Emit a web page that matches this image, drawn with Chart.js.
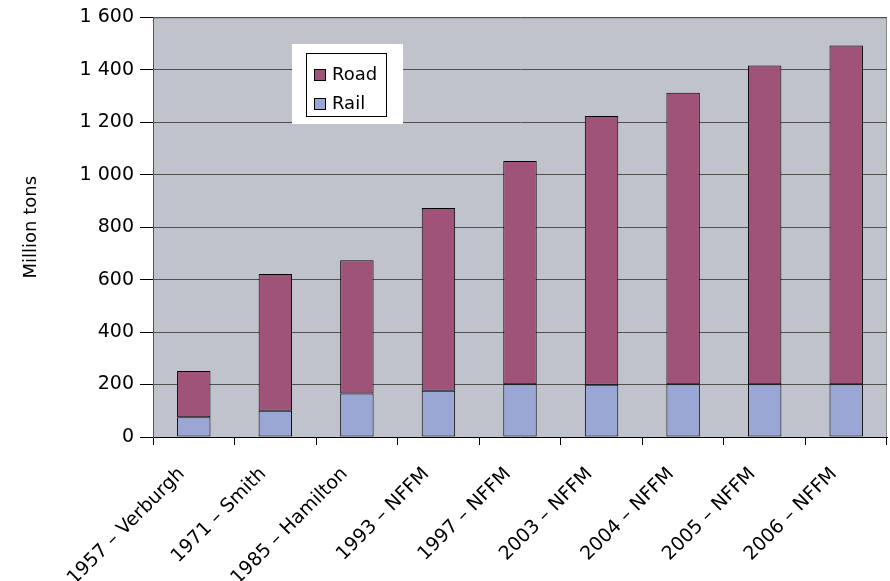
<!DOCTYPE html>
<html>
<head>
<meta charset="utf-8">
<script src="https://cdn.jsdelivr.net/npm/chart.js@4.4.1/dist/chart.umd.min.js"></script>
<style>
  body { margin: 0; background: #fff; }
  #wrap { width: 890px; height: 581px; }
</style>
</head>
<body>
<div id="wrap"><canvas id="freight-chart" width="890" height="581"></canvas></div>
<script>
// Data
const categories = ['1957 – Verburgh', '1971 – Smith', '1985 – Hamilton', '1993 – NFFM', '1997 – NFFM',
                    '2003 – NFFM', '2004 – NFFM', '2005 – NFFM', '2006 – NFFM'];
const railValues = [75, 100, 166, 176, 201, 199, 201, 201, 201];
const roadValues = [177, 522, 508, 697, 851, 1025, 1112, 1216, 1292];
const yTicks = [0, 200, 400, 600, 800, 1000, 1200, 1400, 1600];

const FONT = 'DejaVu Sans';

// grey plot background + thin frame
const plotBackground = {
    id: 'plotBackground',
    beforeDraw(chart) {
        const { ctx, chartArea: a } = chart;
        ctx.save();
        ctx.fillStyle = '#c0c3cb';
        ctx.fillRect(a.left, a.top, a.right - a.left, a.bottom - a.top);
        ctx.strokeStyle = '#8a8a8a';
        ctx.lineWidth = 1;
        ctx.beginPath();
        ctx.moveTo(a.left, a.top + 0.5);
        ctx.lineTo(a.right - 0.5, a.top + 0.5);
        ctx.lineTo(a.right - 0.5, a.bottom);
        ctx.stroke();
        ctx.restore();
    }
};

// boxed legend inside the plot, Road above Rail
const boxLegend = {
    id: 'boxLegend',
    afterDraw(chart) {
        const { ctx } = chart;
        const items = chart.data.datasets.slice().reverse();
        ctx.save();
        ctx.fillStyle = '#ffffff';
        ctx.fillRect(292, 44, 111, 80);
        ctx.strokeStyle = '#000';
        ctx.lineWidth = 1;
        ctx.strokeRect(306.5, 53.5, 80, 63);
        ctx.font = '18px "' + FONT + '"';
        ctx.textBaseline = 'middle';
        items.forEach((ds, i) => {
            const y = 75 + i * 29;
            ctx.fillStyle = ds.backgroundColor;
            ctx.fillRect(314, y - 6, 12, 12);
            ctx.strokeRect(314.5, y - 5.5, 11, 11);
            ctx.fillStyle = '#000';
            ctx.fillText(ds.label, 332, y);
        });
        ctx.restore();
    }
};

const ctx = document.getElementById('freight-chart').getContext('2d');
new Chart(ctx, {
    type: 'bar',
    data: {
        labels: categories,
        datasets: [
            {
                label: 'Rail',
                data: railValues,
                backgroundColor: '#9aa6d4',
                borderColor: '#000',
                borderWidth: 1,
                borderSkipped: false
            },
            {
                label: 'Road',
                data: roadValues,
                backgroundColor: '#a05378',
                borderColor: '#000',
                borderWidth: 1,
                borderSkipped: false
            }
        ]
    },
    options: {
        responsive: false,
        animation: false,
        layout: { padding: { top: 16, right: 3, left: 0, bottom: 0 } },
        datasets: { bar: { barPercentage: 0.41, categoryPercentage: 1.0 } },
        plugins: {
            legend: { display: false },
            tooltip: { enabled: false }
        },
        scales: {
            x: {
                stacked: true,
                border: { color: '#000', width: 1 },
                grid: { offset: true, drawOnChartArea: false, color: '#000', tickLength: 8 },
                ticks: {
                    color: '#000',
                    font: { family: FONT, size: 19 },
                    minRotation: 45,
                    maxRotation: 45,
                    padding: 18,
                    labelOffset: -12,
                    autoSkip: false
                },
                afterFit(scale) { scale.height = 144; }
            },
            y: {
                stacked: true,
                min: 0,
                max: 1600,
                border: { color: '#555', width: 1 },
                grid: { color: '#505050', tickLength: 13, tickColor: '#000' },
                afterBuildTicks(scale) { scale.ticks = yTicks.map(v => ({ value: v })); },
                ticks: {
                    color: '#000',
                    font: { family: FONT, size: 19 },
                    padding: 6,
                    callback: v => String(v).replace(/\B(?=(\d{3})+(?!\d))/g, ' ')
                },
                title: {
                    display: true,
                    text: 'Million tons',
                    color: '#000',
                    font: { family: FONT, size: 18 },
                    padding: { top: 21, bottom: 0 }
                },
                afterFit(scale) { scale.width = 153; }
            }
        }
    },
    plugins: [plotBackground, boxLegend]
});
</script>
</body>
</html>
